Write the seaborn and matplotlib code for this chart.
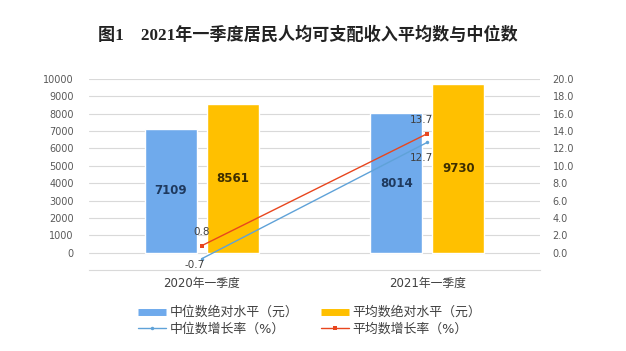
import numpy as np
import pandas as pd
import seaborn as sns
import matplotlib.pyplot as plt
from matplotlib.lines import Line2D

# data
quarters = ['2020年一季度', '2021年一季度']
median_level = [7109, 8014]
mean_level = [8561, 9730]
median_rate = [-0.7, 12.7]
mean_rate = [0.8, 13.7]

bar_names = ['中位数绝对水平（元）', '平均数绝对水平（元）']
line_names = ['中位数增长率（%）', '平均数增长率（%）']

bar_colors = ['#6FAAEC', '#FFC000']
line_colors = ['#5FA2D8', '#E8461E']

df = pd.DataFrame({
    'quarter': quarters * 2,
    'series': [bar_names[0]] * 2 + [bar_names[1]] * 2,
    'value': median_level + mean_level,
})

sns.set_style('white')
plt.rcParams['font.family'] = ['DejaVu Sans', 'Noto Sans CJK SC']

fig = plt.figure(figsize=(6.26, 3.51), dpi=100)
ax = fig.add_axes([89 / 626, 1 - 270 / 351, 451 / 626, 191 / 351])

sns.barplot(data=df, x='quarter', y='value', hue='series', palette=bar_colors,
            width=0.55, gap=0.16, ax=ax, legend=False, saturation=1)

ax.set_ylim(-1000, 10000)
ax.set_yticks(np.arange(0, 10001, 1000))
ax.set_xlim(-0.5, 1.5)
ax.grid(True, axis='y', color='#D9D9D9', lw=0.8)
ax.set_axisbelow(True)
for s in ['top', 'left', 'right']:
    ax.spines[s].set_visible(False)
ax.spines['bottom'].set_color('#D9D9D9')
ax.tick_params(axis='y', length=0, pad=11, labelsize=7, labelcolor='#595959')
ax.tick_params(axis='x', length=0, pad=5, labelsize=8.5, labelcolor='#404040')
ax.set_xlabel('')
ax.set_ylabel('')

# bar value labels
label_colors = ['#1F3A5F', '#3D2E00']
for cont, lc in zip(ax.containers, label_colors):
    ax.bar_label(cont, label_type='center', fontsize=8.5, color=lc, fontweight='bold')

# growth rate lines on secondary axis
ax2 = ax.twinx()
xs = np.arange(len(quarters))
sns.lineplot(x=xs, y=median_rate, ax=ax2, color=line_colors[0], lw=1,
             marker='o', markersize=2.5, markeredgewidth=0)
sns.lineplot(x=xs, y=mean_rate, ax=ax2, color=line_colors[1], lw=1,
             marker='s', markersize=3.5, markeredgewidth=0)
ax2.set_ylim(-2, 20)
ax2.set_yticks(np.arange(0, 20.1, 2))
ax2.set_yticklabels([f'{v:.1f}' for v in np.arange(0, 20.1, 2)])
ax2.tick_params(axis='y', length=0, pad=9, labelsize=7, labelcolor='#595959')
for s in ax2.spines.values():
    s.set_visible(False)

offsets_mean = [(0, 6), (-4, 6)]
offsets_median = [(-5, -1), (-4, -8)]
for x, v, off in zip(xs, mean_rate, offsets_mean):
    ax2.annotate(f'{v}', (x, v), xytext=off, textcoords='offset points',
                 ha='center', va='bottom', fontsize=7.5, color='#404040')
for x, v, off in zip(xs, median_rate, offsets_median):
    ax2.annotate(f'{v}', (x, v), xytext=off, textcoords='offset points',
                 ha='center', va='top', fontsize=7.5, color='#404040')

# title
fig.text(0.492, 1 - 35 / 351, '图1　2021年一季度居民人均可支配收入平均数与中位数',
         ha='center', va='center', fontsize=12.3, fontweight='bold',
         family=['Liberation Serif', 'Noto Sans CJK SC'], color='#222222')

# legend
handles = [
    Line2D([], [], color=bar_colors[0], lw=5, solid_capstyle='butt'),
    Line2D([], [], color=line_colors[0], lw=1, marker='o', markersize=2.5, markeredgewidth=0),
    Line2D([], [], color=bar_colors[1], lw=5, solid_capstyle='butt'),
    Line2D([], [], color=line_colors[1], lw=1, marker='s', markersize=3.5, markeredgewidth=0),
]
labels = [bar_names[0], line_names[0], bar_names[1], line_names[1]]
fig.legend(handles, labels, ncol=2, loc='center', bbox_to_anchor=(0.495, 1 - 321 / 351),
           frameon=False, fontsize=9.3, handlelength=2.1, handletextpad=0.3,
           columnspacing=1.8, labelspacing=0.3, labelcolor='#404040')

plt.savefig('out.png', dpi=100)
